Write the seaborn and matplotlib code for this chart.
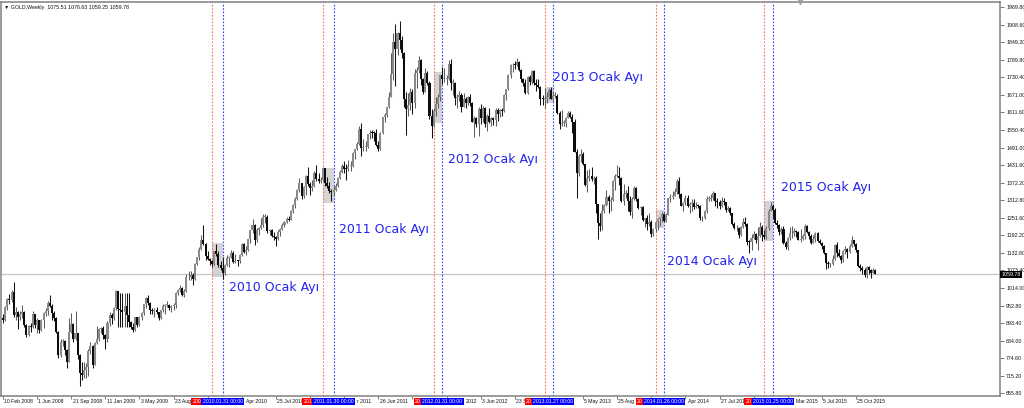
import numpy as np
import pandas as pd
import matplotlib
matplotlib.use("Agg")
import matplotlib.pyplot as plt
import seaborn as sns
from matplotlib.patches import Rectangle
from matplotlib.transforms import blended_transform_factory

# ---------------- data (weekly GOLD candles, Feb 2008 - Dec 2015) ----------------
first_open = 910

close_2008 = [906, 948, 975, 972, 1000, 920, 931, 914, 925, 930, 888, 854, 884, 881, 924, 886, 903, 870, 903, 928,
              934, 963, 953, 928, 912, 864, 785, 830, 833, 802, 763, 865, 890, 838, 860, 785, 725, 718, 733, 743,
              800, 815, 752, 825, 838, 872, 878]
high_2008 = [925, 952, 978, 992, 1005, 1033, 950, 935, 935, 955, 935, 890, 888, 895, 935, 925, 910, 905, 907, 932,
             946, 968, 988, 960, 934, 915, 866, 840, 840, 836, 804, 910, 928, 893, 935, 860, 790, 760, 760, 757,
             805, 830, 820, 830, 884, 876, 882]
low_2008 = [895, 900, 940, 960, 964, 915, 905, 872, 905, 912, 880, 846, 850, 862, 878, 878, 860, 861, 866, 878,
            918, 920, 948, 906, 902, 860, 776, 780, 815, 784, 740, 760, 860, 830, 835, 770, 681, 700, 706, 706,
            712, 790, 741, 752, 822, 834, 860]

close_2009 = [853, 840, 895, 920, 912, 944, 1002, 942, 940, 930, 953, 922, 897, 882, 870, 913, 886, 915, 929, 958,
              978, 962, 938, 934, 940, 930, 911, 937, 953, 955, 956, 946, 953, 955, 996, 1006, 1012, 991, 1003, 1049,
              1052, 1057, 1045, 1096, 1118, 1147, 1176, 1162, 1121, 1111, 1104, 1096]
high_2009 = [885, 858, 900, 930, 927, 948, 1007, 1004, 996, 996, 996, 996, 996, 900, 893, 915, 915, 918, 931, 960,
             982, 990, 965, 945, 945, 947, 933, 940, 960, 959, 970, 960, 957, 962, 1000, 1010, 1025, 1018, 1010, 1062,
             1070, 1070, 1065, 1100, 1119, 1153, 1195, 1227, 1165, 1140, 1114, 1110]
low_2009 = [840, 806, 830, 884, 890, 905, 940, 882, 882, 882, 882, 882, 882, 875, 865, 866, 880, 885, 905, 920,
            945, 955, 925, 925, 915, 925, 905, 908, 932, 925, 950, 938, 930, 940, 945, 990, 998, 985, 983, 1000,
            1040, 1040, 1025, 1040, 1090, 1110, 1142, 1160, 1110, 1107, 1090, 1085]

close_2010 = [1138, 1130, 1091, 1083, 1064, 1093, 1117, 1118, 1133, 1102, 1106, 1105, 1125, 1162, 1137, 1141, 1179,
              1209, 1228, 1177, 1212, 1218, 1228, 1256, 1256, 1207, 1210, 1189, 1188, 1181, 1204, 1215, 1227, 1237,
              1247, 1246, 1275, 1296, 1317, 1346, 1369, 1325, 1358, 1393, 1367, 1352, 1362, 1406, 1385, 1378, 1380, 1421]
high_2010 = [1140, 1162, 1140, 1104, 1120, 1096, 1125, 1122, 1141, 1138, 1128, 1108, 1130, 1165, 1168, 1155, 1180,
             1211, 1249, 1232, 1218, 1222, 1250, 1264, 1265, 1262, 1214, 1215, 1205, 1190, 1210, 1217, 1235, 1242,
             1255, 1258, 1278, 1298, 1322, 1350, 1388, 1372, 1360, 1398, 1424, 1375, 1380, 1410, 1431, 1406, 1390, 1424]
low_2010 = [1093, 1123, 1086, 1074, 1045, 1059, 1088, 1086, 1115, 1100, 1097, 1088, 1100, 1122, 1134, 1127, 1140,
            1165, 1199, 1161, 1170, 1195, 1215, 1220, 1235, 1200, 1195, 1186, 1177, 1157, 1178, 1190, 1212, 1220,
            1235, 1240, 1245, 1270, 1285, 1312, 1340, 1315, 1318, 1330, 1360, 1330, 1342, 1358, 1378, 1369, 1370, 1376]

close_2011 = [1369, 1360, 1342, 1340, 1348, 1361, 1388, 1409, 1429, 1420, 1418, 1429, 1430, 1474, 1486, 1504, 1556,
              1491, 1493, 1494, 1536, 1542, 1541, 1540, 1500, 1487, 1542, 1594, 1601, 1628, 1663, 1743, 1852, 1828,
              1882, 1856, 1813, 1656, 1624, 1636, 1681, 1642, 1745, 1755, 1788, 1725, 1682, 1746, 1712, 1598, 1566]
high_2011 = [1423, 1392, 1375, 1349, 1360, 1369, 1391, 1415, 1437, 1445, 1436, 1448, 1447, 1476, 1487, 1509, 1566,
             1575, 1520, 1512, 1539, 1550, 1552, 1547, 1556, 1513, 1544, 1595, 1610, 1631, 1682, 1814, 1880, 1912,
             1885, 1921, 1870, 1815, 1680, 1676, 1695, 1690, 1760, 1765, 1802, 1792, 1728, 1762, 1752, 1718, 1621]
low_2011 = [1362, 1353, 1337, 1308, 1326, 1344, 1356, 1385, 1406, 1405, 1380, 1412, 1410, 1425, 1452, 1482, 1500,
            1462, 1478, 1480, 1490, 1522, 1524, 1512, 1495, 1478, 1482, 1537, 1578, 1597, 1626, 1663, 1720, 1702,
            1805, 1826, 1795, 1630, 1535, 1600, 1620, 1604, 1625, 1695, 1745, 1705, 1672, 1680, 1705, 1587, 1523]

close_2012 = [1617, 1640, 1665, 1738, 1725, 1725, 1725, 1776, 1710, 1712, 1659, 1662, 1669, 1631, 1658, 1642, 1663,
              1644, 1580, 1591, 1573, 1622, 1591, 1627, 1572, 1598, 1579, 1591, 1584, 1618, 1604, 1620, 1616, 1671,
              1691, 1739, 1771, 1773, 1772, 1781, 1757, 1724, 1712, 1676, 1731, 1714, 1751, 1712, 1704, 1696, 1657,
              1656, 1656]
high_2012 = [1627, 1662, 1675, 1740, 1764, 1762, 1738, 1790, 1792, 1725, 1715, 1674, 1683, 1678, 1677, 1662, 1667,
             1672, 1646, 1598, 1596, 1628, 1640, 1634, 1628, 1605, 1627, 1596, 1596, 1627, 1625, 1624, 1626, 1675,
             1692, 1742, 1777, 1780, 1787, 1796, 1785, 1760, 1727, 1725, 1735, 1737, 1754, 1755, 1723, 1725, 1700,
             1670, 1693]
low_2012 = [1562, 1598, 1627, 1650, 1707, 1715, 1703, 1722, 1688, 1670, 1635, 1627, 1650, 1612, 1628, 1625, 1637,
            1632, 1578, 1527, 1562, 1532, 1570, 1580, 1561, 1548, 1575, 1565, 1567, 1565, 1583, 1597, 1598, 1613,
            1652, 1687, 1729, 1750, 1760, 1768, 1752, 1716, 1701, 1672, 1673, 1705, 1709, 1705, 1683, 1693, 1636,
            1635, 1626]

close_2013 = [1662, 1687, 1657, 1667, 1667, 1609, 1573, 1576, 1576, 1592, 1608, 1596, 1579, 1476, 1405, 1462, 1469,
              1435, 1365, 1386, 1393, 1383, 1387, 1298, 1234, 1223, 1277, 1295, 1322, 1310, 1313, 1376, 1395, 1396,
              1387, 1308, 1333, 1338, 1309, 1272, 1315, 1352, 1315, 1287, 1288, 1244, 1251, 1231, 1237, 1197, 1213, 1237]
high_2013 = [1680, 1694, 1696, 1685, 1681, 1674, 1616, 1619, 1586, 1596, 1615, 1616, 1605, 1589, 1485, 1470, 1487,
             1475, 1436, 1415, 1418, 1424, 1395, 1396, 1298, 1267, 1298, 1300, 1348, 1331, 1324, 1380, 1400, 1433,
             1425, 1392, 1368, 1346, 1362, 1327, 1322, 1361, 1357, 1321, 1292, 1291, 1253, 1261, 1267, 1245, 1216, 1240]
low_2013 = [1644, 1658, 1655, 1650, 1660, 1605, 1554, 1565, 1564, 1562, 1591, 1591, 1540, 1475, 1321, 1393, 1443,
            1432, 1359, 1339, 1376, 1378, 1366, 1269, 1180, 1207, 1211, 1268, 1294, 1270, 1275, 1310, 1348, 1390,
            1364, 1306, 1296, 1319, 1277, 1262, 1251, 1312, 1310, 1281, 1262, 1240, 1221, 1211, 1224, 1187, 1190, 1205]

close_2014 = [1247, 1254, 1264, 1240, 1263, 1318, 1323, 1326, 1339, 1379, 1334, 1294, 1303, 1318, 1294, 1300, 1302,
              1290, 1293, 1292, 1250, 1252, 1274, 1316, 1317, 1320, 1337, 1310, 1307, 1294, 1309, 1305, 1280, 1287,
              1268, 1231, 1216, 1218, 1192, 1222, 1238, 1231, 1171, 1169, 1185, 1198, 1175, 1191, 1222, 1195, 1186]
high_2014 = [1251, 1256, 1271, 1270, 1268, 1320, 1332, 1345, 1355, 1385, 1392, 1336, 1307, 1331, 1331, 1305, 1316,
             1315, 1305, 1300, 1295, 1259, 1278, 1325, 1325, 1332, 1345, 1338, 1320, 1312, 1324, 1321, 1305, 1292,
             1289, 1270, 1237, 1226, 1222, 1225, 1250, 1255, 1233, 1177, 1198, 1208, 1202, 1220, 1238, 1227, 1210]
low_2014 = [1211, 1225, 1238, 1238, 1238, 1261, 1306, 1315, 1326, 1334, 1321, 1291, 1277, 1295, 1290, 1268, 1277,
            1283, 1284, 1284, 1245, 1240, 1247, 1270, 1309, 1309, 1313, 1292, 1287, 1281, 1290, 1296, 1273, 1275,
            1261, 1229, 1214, 1207, 1183, 1190, 1217, 1225, 1161, 1132, 1143, 1180, 1167, 1142, 1188, 1173, 1180]

close_2015 = [1216, 1277, 1293, 1279, 1234, 1227, 1203, 1213, 1167, 1152, 1184, 1199, 1201, 1207, 1203, 1175, 1179,
              1189, 1225, 1205, 1190, 1168, 1180, 1201, 1173, 1168, 1157, 1132, 1099, 1094, 1094, 1113, 1160, 1133,
              1121, 1108, 1138, 1145, 1137, 1156, 1176, 1163, 1142, 1088, 1081, 1076, 1056, 1084, 1075, 1066,
              1075.51, 1059.78]
high_2015 = [1224, 1282, 1307, 1299, 1285, 1244, 1231, 1220, 1223, 1172, 1188, 1220, 1224, 1218, 1209, 1207, 1214,
             1197, 1232, 1228, 1206, 1196, 1192, 1205, 1204, 1180, 1170, 1161, 1132, 1104, 1099, 1125, 1162, 1170,
             1147, 1125, 1142, 1157, 1150, 1162, 1191, 1178, 1167, 1143, 1095, 1088, 1080, 1088, 1087, 1077,
             1081, 1076.63]
low_2015 = [1180, 1209, 1275, 1250, 1232, 1216, 1192, 1196, 1164, 1147, 1142, 1178, 1183, 1189, 1186, 1175, 1170,
            1178, 1180, 1200, 1180, 1162, 1166, 1171, 1170, 1162, 1147, 1130, 1077, 1080, 1084, 1092, 1110, 1119,
            1118, 1098, 1101, 1129, 1114, 1132, 1154, 1157, 1136, 1085, 1072, 1062, 1052, 1046, 1062, 1046,
            1064, 1059.25]

# x-axis time ticks (every 16 bars) and the parts of their labels left visible
time_tick_bars = [0, 16, 32, 48, 64, 80, 96, 112, 128, 144, 160, 176, 192, 208, 224, 240, 256, 272, 288, 304,
                  320, 336, 352, 368, 384, 400]
# labels fully visible or cut on the right by a marker box
time_labels = {0: "10 Feb 2008", 16: "1 Jun 2008", 32: "21 Sep 2008", 48: "11 Jan 2009", 64: "3 May 2009",
               80: "23 Aug", 128: "25 Jul 2010", 176: "26 Jun 2011", 224: "3 Jun 2012", 240: "23 S",
               272: "5 May 2013", 288: "25 Aug", 336: "27 Jul 201", 384: "5 Jul 2015", 400: "25 Oct 2015"}
# labels cut on the left by a blue marker box (shown right after the box)
tail_labels = ["Apr 2010", "r 2011", "2012", "", "Apr 2014", "Mar 2015"]

# right price scale
price_ticks = [1969.80, 1908.60, 1849.20, 1789.80, 1730.40, 1671.00, 1611.60, 1550.40, 1491.00, 1431.60,
               1372.20, 1312.80, 1251.60, 1192.20, 1132.80, 1073.40, 1014.00, 952.80, 893.40, 834.00,
               774.60, 715.20, 655.80]
last_price = 1059.78
header = "\u25BC GOLD,Weekly  1075.51 1076.63 1059.25 1059.78"

# January markers (vertical lines at bars) and shaded January ranges
red_line_bars = [98, 150, 202, 254, 306, 357]
blue_line_bars = [103, 155, 206, 258, 310, 361]
red_line_labels = ["200", "201", "20", "20", "20", "20"]
blue_line_labels = ["2010.01.31 00:00", "2011.01.30 00:00", "2012.01.31 00:00",
                    "2013.01.27 00:00", "2014.01.26 00:00", "2015.01.25 00:00"]
box_high = [1166, 1422, 1748, 1697, 1279, 1309]
box_low = [1050, 1303, 1575, 1643, 1217, 1173]
note_texts = ["2010 Ocak Ayı", "2011 Ocak Ayı", "2012 Ocak Ayı",
              "2013 Ocak Ayı", "2014 Ocak Ayı", "2015 Ocak Ayı"]

# ---------------- build frame ----------------
closes = np.array(close_2008 + close_2009 + close_2010 + close_2011 + close_2012 + close_2013 + close_2014 + close_2015, float)
highs = np.array(high_2008 + high_2009 + high_2010 + high_2011 + high_2012 + high_2013 + high_2014 + high_2015, float)
lows = np.array(low_2008 + low_2009 + low_2010 + low_2011 + low_2012 + low_2013 + low_2014 + low_2015, float)
opens = np.concatenate([[first_open], closes[:-1]])
df = pd.DataFrame({"bar": np.arange(len(closes)), "open": opens, "high": highs, "low": lows, "close": closes})
df["high"] = df[["high", "open", "close"]].max(axis=1)
df["low"] = df[["low", "open", "close"]].min(axis=1)
df["up"] = df["close"] >= df["open"]

# ---------------- figure ----------------
sns.set_theme(style="white")
plt.rcParams["font.family"] = ["Liberation Sans", "DejaVu Sans"]

W, H = 1024, 408
fig = plt.figure(figsize=(W / 100, H / 100), dpi=100)
fig.patch.set_facecolor("white")
ax = fig.add_axes([1 / W, 12 / H, 999 / W, 394 / H])
ax.set_facecolor("white")

px_per_bar = 2.1325
x0_px = 3.0
ax.set_xlim((1 - x0_px) / px_per_bar, (1000 - x0_px) / px_per_bar)
ax.set_ylim(645.6, 1986.8)

# shaded January rectangles
for rb, bb, hi, lo in zip(red_line_bars, blue_line_bars, box_high, box_low):
    ax.add_patch(Rectangle((rb, lo), bb - rb, hi - lo, facecolor="#d4d4d4", edgecolor="none", zorder=0.5))

# current price line
ax.axhline(last_price, color="#c8c8c8", lw=1.0, zorder=0.6)

# vertical dotted lines
for rb, bb in zip(red_line_bars, blue_line_bars):
    ax.axvline(rb, color="#ff6a6a", lw=0.8, ls=(0, (1.5, 1.5)), zorder=0.7)
    ax.axvline(bb, color="#3a3aff", lw=0.8, ls=(0, (1.5, 1.5)), zorder=0.7)

# candles
up = df[df.up]
dn = df[~df.up]
ax.vlines(up.bar, up.low, up.high, color="#5e5e5e", lw=0.75, zorder=2)
ax.vlines(dn.bar, dn.low, dn.high, color="#141414", lw=0.75, zorder=2)
body_w = 0.95
ax.bar(up.bar, np.maximum(up.close - up.open, 3.0), bottom=up.open, width=body_w,
       color="#8a8a8a", edgecolor="none", zorder=3)
ax.bar(dn.bar, np.maximum(dn.open - dn.close, 3.0), bottom=dn.close, width=body_w,
       color="#0c0c0c", edgecolor="none", zorder=3)

# spines
for s in ax.spines.values():
    s.set_color("#808080")
    s.set_linewidth(1.1)
    s.set_visible(True)

# right price axis
ax.yaxis.tick_right()
ax.set_yticks(price_ticks)
ax.set_yticklabels([f"{v:.2f}" for v in price_ticks])
ax.tick_params(axis="y", which="major", right=True, left=False, length=3, width=0.6,
               color="#606060", labelsize=3.8, pad=1.5, labelcolor="#101010")

# bottom time axis
ax.set_xticks(time_tick_bars)
ax.set_xticklabels([])
ax.tick_params(axis="x", which="major", bottom=True, length=2.5, width=0.6, color="#606060")
trans_x = blended_transform_factory(ax.transData, ax.transAxes)
lab_y = -0.0135
for b, lab in time_labels.items():
    ax.text(b + 0.6, lab_y, lab, transform=trans_x, ha="left", va="center",
            fontsize=3.7, color="#101010", clip_on=False, zorder=4)

# bottom labels of vertical lines
half_box = 21.5 / px_per_bar
for rb, bb, rl, bl, tl in zip(red_line_bars, blue_line_bars, red_line_labels, blue_line_labels, tail_labels):
    ax.text(bb - half_box, lab_y, rl, transform=trans_x, ha="right", va="center", fontsize=3.7, color="white",
            clip_on=False, zorder=5,
            bbox=dict(boxstyle="square,pad=0.25", fc="#ff0000", ec="none"))
    ax.text(bb, lab_y, bl, transform=trans_x, ha="center", va="center", fontsize=3.7, color="white",
            clip_on=False, zorder=6,
            bbox=dict(boxstyle="square,pad=0.25", fc="#0000ff", ec="none"))
    if tl:
        ax.text(bb + half_box + 1.0, lab_y, tl, transform=trans_x, ha="left", va="center",
                fontsize=3.7, color="#101010", clip_on=False, zorder=4)

# current price box on the right scale
trans_y = blended_transform_factory(ax.transAxes, ax.transData)
ax.text(1.0015, last_price, f"{last_price:.2f}", transform=trans_y, ha="left", va="center",
        fontsize=3.8, color="white", clip_on=False, zorder=6,
        bbox=dict(boxstyle="square,pad=0.2", fc="black", ec="none"))

# annotations (blue text)
note_px = [(229, 288), (339, 230), (448, 160), (553, 78), (667, 261), (781, 188)]
for (px, py), t in zip(note_px, note_texts):
    fig.text(px / W, 1 - py / H, t, color="#2323ee", fontsize=9, family="DejaVu Sans",
             ha="left", va="center")

# header
fig.text(4 / W, 1 - 7 / H, header, fontsize=3.8, color="#101010", ha="left", va="center",
         family=["Liberation Sans", "DejaVu Sans"])

# chart shift marker
ax.plot([0.8], [1.0], marker="v", ms=3, color="#a0a0a0", transform=ax.transAxes, clip_on=False, zorder=6)

fig.savefig("out.png", dpi=100, facecolor="white")
